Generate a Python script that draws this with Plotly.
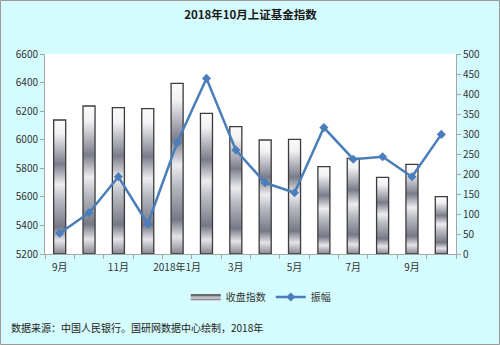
import plotly.graph_objects as go

# Monthly data, Sep 2017 - Oct 2018
months = ["2017-09", "2017-10", "2017-11", "2017-12", "2018-01", "2018-02", "2018-03",
          "2018-04", "2018-05", "2018-06", "2018-07", "2018-08", "2018-09", "2018-10"]
tick_labels = ["9月", "", "11月", "", "2018年1月", "", "3月", "", "5月", "", "7月", "", "9月", ""]
close_index = [6138, 6236, 6224, 6217, 6395, 6185, 6091, 5998, 6003, 5811, 5870, 5737, 5828, 5601]
amplitude = [52, 103, 193, 75, 278, 439, 260, 178, 153, 316, 237, 243, 193, 299]

LEFT_MIN, LEFT_MAX = 5200, 6600
RIGHT_MIN, RIGHT_MAX = 0, 500

W, H = 500, 345
ML, MR, MT, MB = 45, 44, 54, 91
PW, PH = W - ML - MR, H - MT - MB

FONT = "Noto Sans CJK SC, Liberation Sans, Arial, sans-serif"
AXIS_GRAY = "#a6a6a6"
BLUE = "#4a7ebb"
BG = "#d4fbfd"

# metallic cylinder look: colour stops from bar base (0) to bar top (1)
metal = [
    [0.00, "#858792"],
    [0.10, "#e4e4e8"],
    [0.20, "#767886"],
    [0.40, "#b8bac2"],
    [0.52, "#ededf0"],
    [0.67, "#7a7c8a"],
    [0.90, "#f2f2f4"],
    [1.00, "#fbfbfb"],
]

fig = go.Figure()

half_w = 0.205
x_idx = list(range(len(months)))
for i, v in enumerate(close_index):
    fig.add_trace(go.Scatter(
        x=[i - half_w, i - half_w, i + half_w, i + half_w, i - half_w],
        y=[LEFT_MIN, v, v, LEFT_MIN, LEFT_MIN],
        mode="lines",
        fill="toself",
        fillgradient=dict(type="vertical", colorscale=metal, start=LEFT_MIN, stop=v),
        line=dict(color="#3c3c3c", width=1.3),
        name="收盘指数",
        legendgroup="close",
        showlegend=(i == 0),
        hoverinfo="text",
        text=f"{months[i]}: {v}",
        yaxis="y",
    ))

fig.add_trace(go.Scatter(
    x=x_idx,
    y=amplitude,
    mode="lines+markers",
    name="振幅",
    line=dict(color=BLUE, width=2.5),
    marker=dict(symbol="diamond", size=7, color=BLUE),
    yaxis="y2",
))

axis_common = dict(
    showgrid=False,
    zeroline=False,
    showline=True,
    linecolor=AXIS_GRAY,
    linewidth=1,
    ticks="outside",
    tickcolor=AXIS_GRAY,
    ticklen=4,
    tickfont=dict(family=FONT, size=10, color="#333333"),
)

fig.update_layout(
    width=W,
    height=H,
    margin=dict(l=ML, r=MR, t=MT, b=MB),
    paper_bgcolor=BG,
    plot_bgcolor="#ffffff",
    title=dict(
        text="<b>2018年10月上证基金指数</b>",
        x=0.5, xanchor="center", xref="paper",
        y=1 - 15 / H, yanchor="middle",
        font=dict(family=FONT, size=11.5, color="#1a1a1a"),
    ),
    xaxis=dict(
        **{k: v for k, v in axis_common.items() if k not in ("tickcolor", "ticklen")},
        range=[-0.5, len(months) - 0.5],
        tickmode="array",
        tickvals=x_idx,
        ticktext=tick_labels,
        tickcolor="rgba(0,0,0,0)",
        ticklen=4,
        minor=dict(
            tickmode="array",
            tickvals=[i - 0.5 for i in range(len(months) + 1)],
            ticks="outside",
            ticklen=4,
            tickcolor=AXIS_GRAY,
            showgrid=False,
        ),
    ),
    yaxis=dict(
        **axis_common,
        range=[LEFT_MIN, LEFT_MAX],
        dtick=200,
        tick0=LEFT_MIN,
    ),
    yaxis2=dict(
        **axis_common,
        range=[RIGHT_MIN, RIGHT_MAX],
        dtick=50,
        tick0=0,
        overlaying="y",
        side="right",
    ),
    legend=dict(
        orientation="h",
        x=0.525, xanchor="center",
        y=-0.215, yanchor="middle",
        font=dict(family=FONT, size=10, color="#333333"),
        bgcolor="rgba(0,0,0,0)",
        itemwidth=30,
    ),
    annotations=[dict(
        text="数据来源：中国人民银行。国研网数据中心绘制，2018年",
        xref="paper", yref="paper",
        x=-(ML - 9) / PW, xanchor="left",
        y=-(327 - MT - PH) / PH, yanchor="middle",
        showarrow=False,
        font=dict(family=FONT, size=10, color="#222222"),
    )],
    shapes=[dict(
        type="rect", xref="paper", yref="paper",
        x0=-(ML - 0.5) / PW, x1=1 + (MR - 0.5) / PW,
        y0=-(MB - 0.5) / PH, y1=1 + (MT - 0.5) / PH,
        line=dict(color="#9a9a9a", width=1),
        fillcolor="rgba(0,0,0,0)",
        layer="below",
    )],
    showlegend=True,
)

fig.write_html("out.html")
